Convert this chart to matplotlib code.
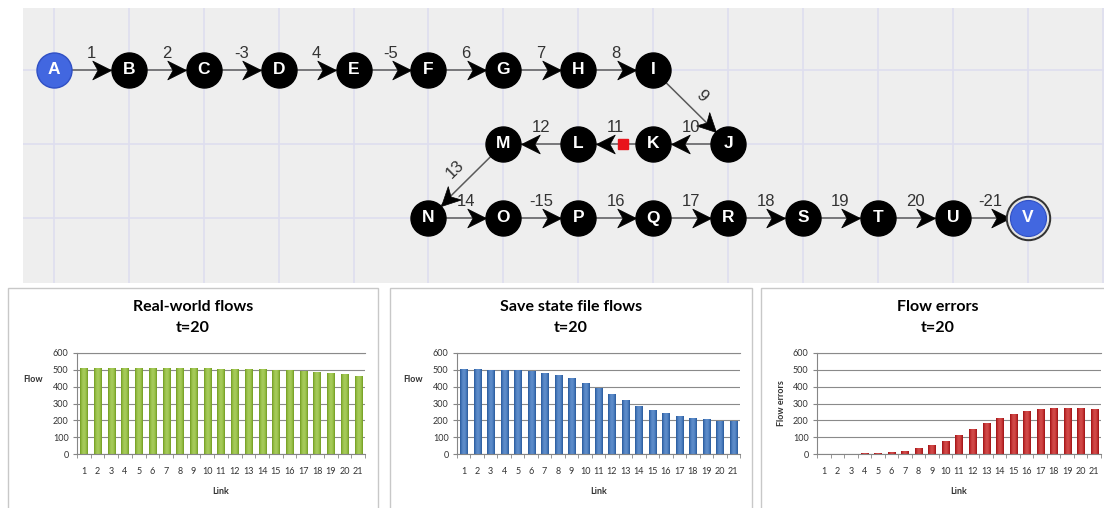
import numpy as np
import matplotlib.pyplot as plt
from matplotlib.patches import Rectangle
from matplotlib.markers import MarkerStyle
from matplotlib.path import Path
from matplotlib.transforms import Affine2D
from matplotlib.colors import LinearSegmentedColormap

# ---- data ----
nodes = list("ABCDEFGHIJKLMNOPQRSTUV")
node_col = [0, 1, 2, 3, 4, 5, 6, 7, 8, 9, 8, 7, 6, 5, 6, 7, 8, 9, 10, 11, 12, 13]
node_row = [0, 0, 0, 0, 0, 0, 0, 0, 0, 1, 1, 1, 1, 2, 2, 2, 2, 2, 2, 2, 2, 2]
link_labels = ["1", "2", "-3", "4", "-5", "6", "7", "8", "9", "10", "11", "12",
               "13", "14", "-15", "16", "17", "18", "19", "20", "-21"]
marked_link = 11      # red square sits on this link
marked_frac = 0.4

links = list(range(1, 22))
real_flows = [509, 509, 509, 509, 509, 509, 509, 509, 509, 509, 503, 503, 503, 503,
              499, 499, 495, 485, 481, 473, 465]
save_flows = [507, 507, 501, 501, 499, 495, 483, 467, 451, 423, 392, 354, 322, 288,
              260, 241, 227, 213, 205, 199, 199]
flow_errors = [1, 1, 2, 6, 8, 14, 20, 34, 56, 80, 110, 151, 183, 211, 237, 253, 265,
               275, 275, 275, 267]

W, H = 1104, 508
fig = plt.figure(figsize=(W / 100, H / 100), dpi=100)
fig.patch.set_facecolor('white')


def fx(px):
    return px / W


def fy(py):
    return 1 - py / H


def box(x0, y0, x1, y1):
    return [fx(x0), fy(y1), fx(x1) - fx(x0), fy(y0) - fy(y1)]


# ---- network diagram ----
net = fig.add_axes(box(23, 8, 1104, 283))
cx0, cstep = 54, 74.9
ry0, rstep = 70, 74
net.set_xlim((23 - cx0) / cstep, (1104 - cx0) / cstep)
net.set_ylim((283 - ry0) / rstep, (8 - ry0) / rstep)
net.set_facecolor('#eeeeee')
net.set_xticks(range(15))
net.set_yticks(range(3))
net.grid(True, color='#dedeee', lw=1.2)
net.set_axisbelow(True)
net.tick_params(length=0, labelbottom=False, labelleft=False)
for s in net.spines.values():
    s.set_visible(False)

arrow_path = Path([(0, 0), (-1, 0.5), (-0.72, 0), (-1, -0.5), (0, 0)],
                  [Path.MOVETO, Path.LINETO, Path.LINETO, Path.LINETO, Path.CLOSEPOLY])
r_node = 17.5
for k, lab in enumerate(link_labels):
    x0, y0 = node_col[k], node_row[k]
    x1, y1 = node_col[k + 1], node_row[k + 1]
    dxp, dyp = (x1 - x0) * cstep, -(y1 - y0) * rstep
    L = np.hypot(dxp, dyp)
    ux, uy = dxp / L, dyp / L
    net.plot([x0, x1], [y0, y1], color='#5a5a5a', lw=1.1, zorder=1)
    tipx = x1 - ux * r_node / cstep
    tipy = y1 + uy * r_node / rstep
    ang = np.degrees(np.arctan2(uy, ux))
    m = MarkerStyle(arrow_path, transform=Affine2D().rotate_deg(ang))
    net.plot(tipx, tipy, marker=m, ms=27, color='black', mec='black', mew=0.5, zorder=3)
    # label on the upper side of the link
    px, py = -uy, ux
    if py < 0 or (py == 0 and px < 0):
        px, py = -px, -py
    off = 16
    mx, my = (x0 + x1) / 2, (y0 + y1) / 2
    lx = mx + px * off / cstep
    ly = my - py * off / rstep
    rot = ang
    if rot > 90:
        rot -= 180
    if rot <= -90:
        rot += 180
    net.text(lx, ly, lab, ha='center', va='center', rotation=rot, rotation_mode='anchor',
             fontsize=12, color='#333333', family='Liberation Sans', zorder=5)

# red square on a link
mk = marked_link - 1
sqx = node_col[mk] + marked_frac * (node_col[mk + 1] - node_col[mk])
sqy = node_row[mk] + marked_frac * (node_row[mk + 1] - node_row[mk])
net.plot(sqx, sqy, marker='s', ms=7.5, color='#e8141c', zorder=4)

d = 35 * 0.72
net.scatter(node_col[1:-1], node_row[1:-1], s=d ** 2, c='black', zorder=4)
net.scatter(node_col[0], node_row[0], s=d ** 2, c='#4267e0', edgecolors='#2f4fc4', lw=1, zorder=4)
net.scatter(node_col[-1], node_row[-1], s=(44 * 0.72) ** 2, c='#333333', zorder=4)
net.scatter(node_col[-1], node_row[-1], s=(40 * 0.72) ** 2, c='#e4e4e4', zorder=4)
net.scatter(node_col[-1], node_row[-1], s=(36 * 0.72) ** 2, c='#4267e0', edgecolors='#2f4fc4', lw=0.8, zorder=4)
for n, c, r in zip(nodes, node_col, node_row):
    net.text(c, r, n, ha='center', va='center', color='white', fontsize=12.5,
             fontweight='bold', family='Liberation Sans', zorder=6)

# ---- bar charts ----
green = LinearSegmentedColormap.from_list('g', ['#557c10', '#86b033', '#b4d66a'])
blue = LinearSegmentedColormap.from_list('b', ['#1c467f', '#376aae', '#6d9bd6'])
red = LinearSegmentedColormap.from_list('r', ['#7a0c0e', '#b52022', '#dc5a58'])

charts = [
    ("Real-world flows", real_flows, green, "Flow", (8, 378), (77, 365)),
    ("Save state file flows", save_flows, blue, "Flow", (390, 752), (457, 740)),
    ("Flow errors", flow_errors, red, "Flow errors", (761, 1115), (817, 1101)),
]

grad = (0.15 + 0.7 * np.sin(np.linspace(0.1, np.pi - 0.1, 64)) ** 0.8).reshape(1, -1)
font = 'Lato'
for title, vals, cmap, ylab, (bx0, bx1), (ax0, ax1) in charts:
    fig.add_artist(Rectangle((fx(bx0), fy(520)), fx(bx1) - fx(bx0), fy(288) - fy(520),
                             transform=fig.transFigure, facecolor='white',
                             edgecolor='#c8c8c8', lw=1, zorder=0))
    ax = fig.add_axes(box(ax0, 353, ax1, 454))
    width = 0.52
    for xi, v in zip(links, vals):
        bar = ax.bar(xi, v, width=width, color='none', edgecolor='none')[0]
        im = ax.imshow(grad, extent=[xi - width / 2, xi + width / 2, 0, v], aspect='auto',
                       cmap=cmap, vmin=0, vmax=1, zorder=2)
        im.set_clip_path(bar)
    ax.set_xlim(0.5, 21.5)
    ax.set_ylim(0, 600)
    ax.set_yticks(range(0, 601, 100))
    ax.set_xticks(links)
    ax.set_xticks(np.arange(0.5, 22, 1), minor=True)
    ax.tick_params(axis='x', which='major', length=0, pad=9.5, labelsize=6.5,
                   labelcolor='#333333')
    ax.tick_params(axis='x', which='minor', length=3, color='#868686')
    ax.tick_params(axis='y', length=3, color='#868686', pad=3, labelsize=6.5,
                   labelcolor='#333333')
    for lbl in ax.get_xticklabels() + ax.get_yticklabels():
        lbl.set_family(font)
    ax.yaxis.grid(True, color='#8a8a8a', lw=0.8)
    ax.set_axisbelow(True)
    ax.spines['right'].set_visible(False)
    ax.spines['top'].set_color('#8a8a8a')
    ax.spines['top'].set_linewidth(0.8)
    ax.spines['left'].set_color('#868686')
    ax.spines['bottom'].set_color('#868686')

    tx = fx((bx0 + bx1) / 2)
    fig.text(tx, fy(307), title, ha='center', va='center', fontsize=11.5,
             fontweight='bold', family=font)
    fig.text(tx, fy(328), "t=20", ha='center', va='center', fontsize=11.5,
             fontweight='bold', family=font)
    fig.text(fx((ax0 + ax1) / 2), fy(491), "Link", ha='center', va='center',
             fontsize=6.5, fontweight='bold', family=font, color='#333333')
    if ylab == "Flow":
        fig.text(fx(ax0 - 44), fy(380), ylab, ha='center', va='center',
                 fontsize=6.5, fontweight='bold', family=font, color='#333333')
    else:
        fig.text(fx(ax0 - 36), fy(403), ylab, ha='center', va='center', rotation=90,
                 fontsize=6.5, fontweight='bold', family=font, color='#333333')

fig.savefig('out.png', dpi=100)
